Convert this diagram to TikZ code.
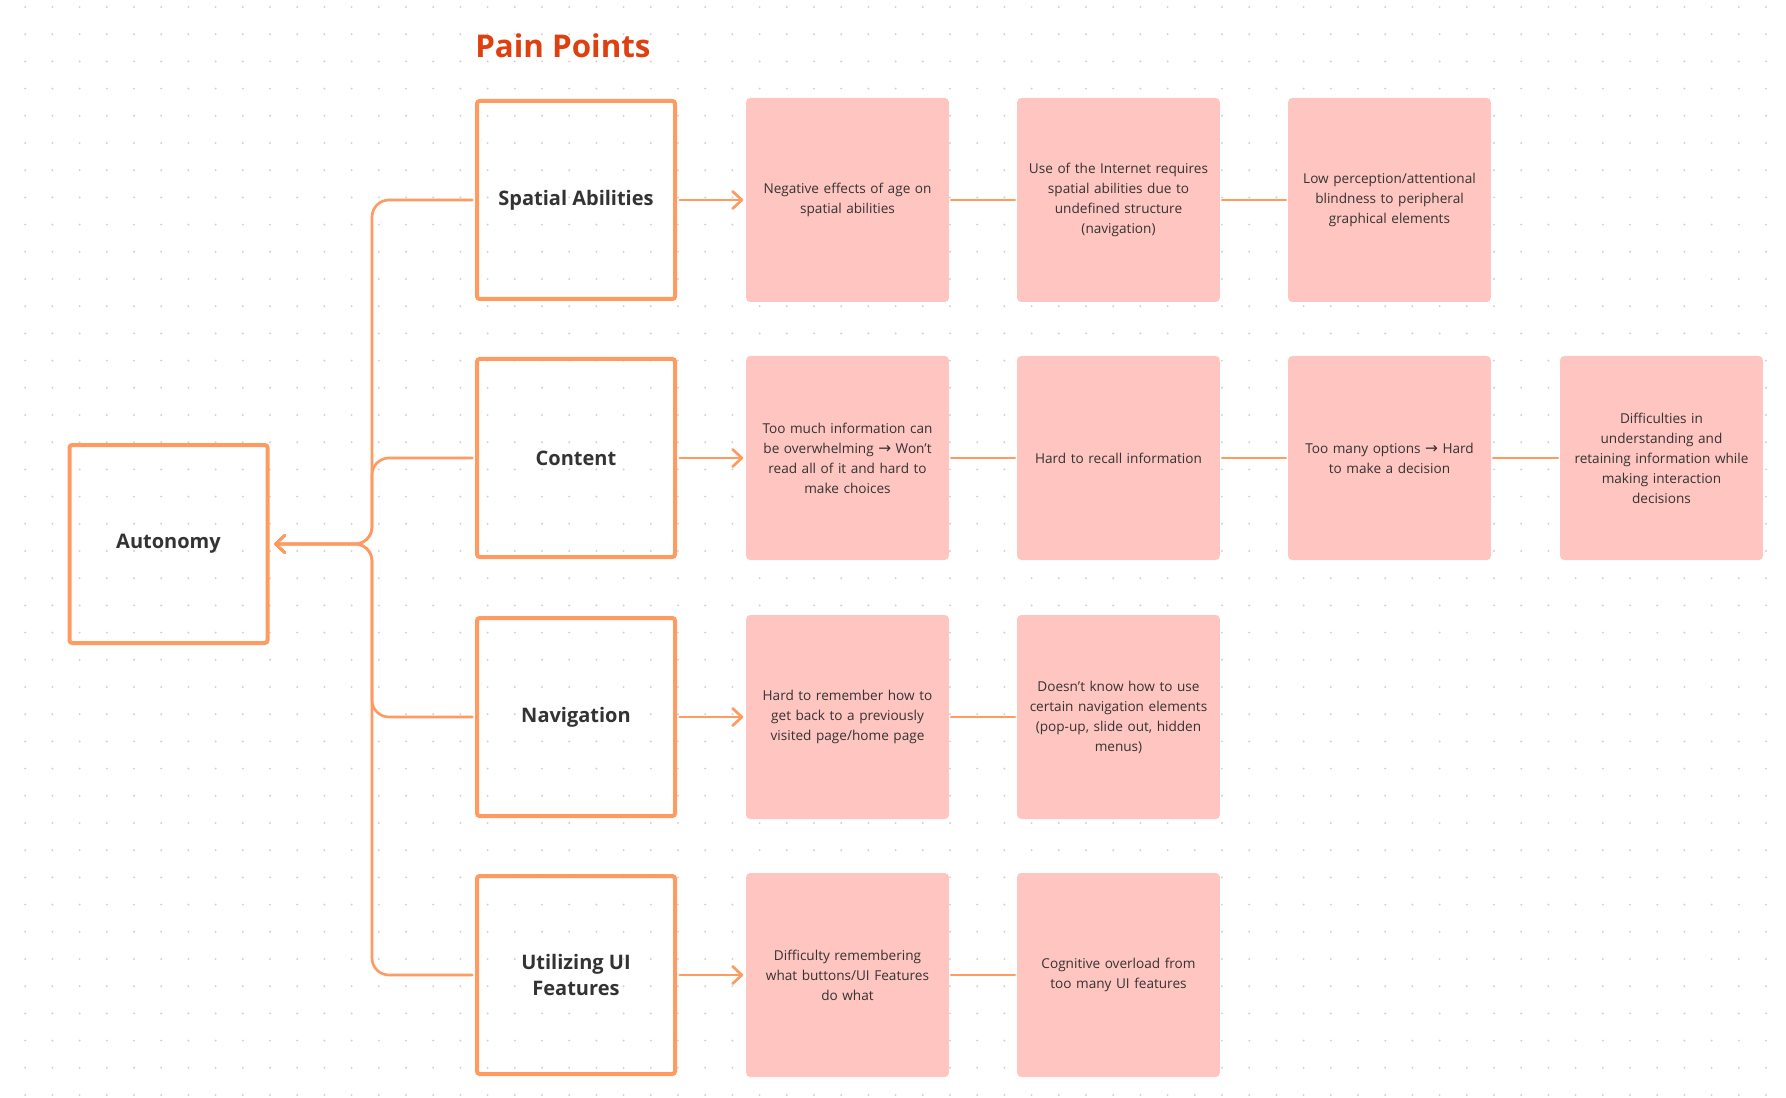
\documentclass[tikz,border=0pt]{standalone}
\usepackage{fontspec}
\setmainfont{Open Sans}
\newfontfamily\arrowfont{DejaVu Sans}
\usetikzlibrary{arrows.meta}

\definecolor{linecolor}{HTML}{FF9A61}
\definecolor{painfill}{HTML}{FFC5C0}
\definecolor{titlecolor}{HTML}{DF400F}
\definecolor{inkcolor}{HTML}{333333}
\definecolor{dotcolor}{HTML}{CFCFCF}
\newcommand{\rarr}{{\arrowfont\fontsize{11.5}{15}\selectfont →}}

\begin{document}
\begin{tikzpicture}[x=0.75pt,y=-0.75pt]
    \useasboundingbox (0,0) rectangle (1786,1098);
    % dotted canvas
    \foreach \i in {0,...,64}
        \foreach \j in {0,...,40}
            \fill[dotcolor] (25.2+27.2*\i, 7+27.2*\j) circle (0.8pt);

    \tikzset{TopicStyle/.style={draw=linecolor, line width=3pt, rounded corners=2pt,
        minimum width=148.5pt, minimum height=148.5pt, align=center, text=inkcolor,
        font=\fontsize{15}{19.5}\selectfont\bfseries}}
    \tikzset{PainStyle/.style={fill=painfill, rounded corners=3pt, inner sep=0pt,
        minimum width=152pt, minimum height=153pt, text width=142pt, align=center,
        text=inkcolor, font=\fontsize{10.2}{15}\selectfont}}
    \tikzset{EdgeStyle/.style={draw=linecolor, line width=2pt, line cap=round}}
    \tikzset{TipStyle/.style={-{Straight Barb[length=7pt,width=13pt,round]}}}

    \node[anchor=west, inner sep=0pt, text=titlecolor,
        font=\fontsize{23.5}{30}\selectfont\bfseries] (title) at (475,46) {Pain Points};

    \node[TopicStyle] (autonomy) at (168.5,544) {Autonomy};

    \node[TopicStyle] (spatial)    at (576,200) {Spatial Abilities};
    \node[TopicStyle] (content)    at (576,458) {Content};
    \node[TopicStyle] (navigation) at (576,717) {Navigation};
    \node[TopicStyle] (features)   at (576,975) {Utilizing UI\\Features};

    % spatial abilities
    \node[PainStyle] (spatialA) at (847.5,200) {Negative effects of age on\\spatial abilities};
    \node[PainStyle] (spatialB) at (1118.5,200) {Use of the Internet requires\\spatial abilities due to\\undefined structure\\(navigation)};
    \node[PainStyle] (spatialC) at (1389.5,200) {Low perception/attentional\\blindness to peripheral\\graphical elements};
    % content
    \node[PainStyle] (contentA) at (847.5,458) {Too much information can\\be overwhelming \rarr{} Won’t\\read all of it and hard to\\make choices};
    \node[PainStyle] (contentB) at (1118.5,458) {Hard to recall information};
    \node[PainStyle] (contentC) at (1389.5,458) {Too many options \rarr{} Hard\\to make a decision};
    \node[PainStyle] (contentD) at (1661.5,458) {Difficulties in\\understanding and\\retaining information while\\making interaction\\decisions};
    % navigation
    \node[PainStyle] (navigationA) at (847.5,717) {Hard to remember how to\\get back to a previously\\visited page/home page};
    \node[PainStyle] (navigationB) at (1118.5,717) {Doesn’t know how to use\\certain navigation elements\\(pop-up, slide out, hidden\\menus)};
    % ui features
    \node[PainStyle] (featuresA) at (847.5,975) {Difficulty remembering\\what buttons/UI Features\\do what};
    \node[PainStyle] (featuresB) at (1118.5,975) {Cognitive overload from\\too many UI features};

    \coordinate (fork) at (372,544);
    \foreach \t in {spatial,content,navigation,features}{
        \draw[EdgeStyle, TipStyle, rounded corners=12.75pt, shorten <=2pt, shorten >=3.5pt]
            (\t.west) -| (fork) -- (autonomy.east);
        \draw[EdgeStyle, TipStyle, shorten <=2pt, shorten >=2pt] (\t) -- (\t A);
    }

    \draw[EdgeStyle, shorten <=1.5pt, shorten >=1.5pt] (spatialA) -- (spatialB);
    \draw[EdgeStyle, shorten <=1.5pt, shorten >=1.5pt] (spatialB) -- (spatialC);
    \draw[EdgeStyle, shorten <=1.5pt, shorten >=1.5pt] (contentA) -- (contentB);
    \draw[EdgeStyle, shorten <=1.5pt, shorten >=1.5pt] (contentB) -- (contentC);
    \draw[EdgeStyle, shorten <=1.5pt, shorten >=1.5pt] (contentC) -- (contentD);
    \draw[EdgeStyle, shorten <=1.5pt, shorten >=1.5pt] (navigationA) -- (navigationB);
    \draw[EdgeStyle, shorten <=1.5pt, shorten >=1.5pt] (featuresA) -- (featuresB);
\end{tikzpicture}
\end{document}
